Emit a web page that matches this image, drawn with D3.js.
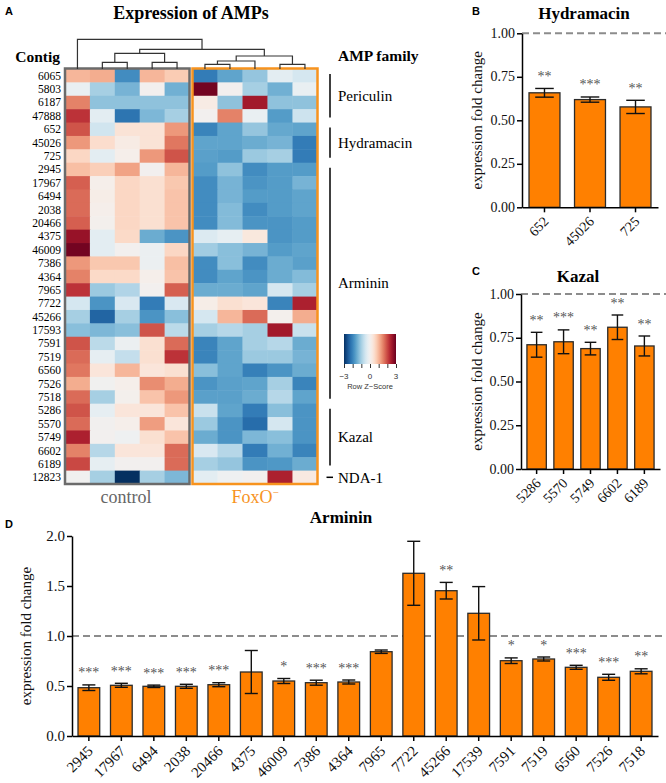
<!DOCTYPE html>
<html>
<head>
<meta charset="utf-8">
<title>AMP expression in FoxO- polyps</title>
<script src="https://cdn.jsdelivr.net/npm/d3@7"></script>
<style>
  body { margin: 0; background: #fff; }
  svg { display: block; }
</style>
</head>
<body>
<div class="canvas"></div>
<script>
// ---- bar chart data (fold change vs control, mean and s.e.m.) ----
const hydraLabels = ['652', '45026', '725'];
const hydraMean = [0.658, 0.619, 0.577];
const hydraSem = [0.025, 0.015, 0.038];
const hydraSig = ['**', '***', '**'];

const kazalLabels = ['5286', '5570', '5749', '6602', '6189'];
const kazalMean = [0.71, 0.727, 0.688, 0.81, 0.703];
const kazalSem = [0.071, 0.068, 0.036, 0.07, 0.057];
const kazalSig = ['**', '***', '**', '**', '**'];

const arminLabels = ['2945', '17967', '6494', '2038', '20466', '4375', '46009', '7386', '4364',
  '7965', '7722', '45266', '17539', '7591', '7519', '6560', '7526', '7518'];
const arminMean = [0.483, 0.507, 0.497, 0.497, 0.513, 0.64, 0.55, 0.533, 0.54,
  0.843, 1.627, 1.453, 1.227, 0.753, 0.77, 0.687, 0.587, 0.647];
const arminSem = [0.028, 0.02, 0.012, 0.02, 0.02, 0.215, 0.025, 0.025, 0.02,
  0.017, 0.32, 0.083, 0.267, 0.028, 0.02, 0.02, 0.03, 0.025];
const arminSig = ['***', '***', '***', '***', '***', '', '*', '***', '***',
  '', '', '**', '', '*', '*', '***', '***', '**'];

// ---- heatmap data ----
const contigs = ['6065', '5803', '6187', '47888', '652', '45026', '725', '2945', '17967', '6494',
  '2038', '20466', '4375', '46009', '7386', '4364', '7965', '7722', '45266', '17593', '7591',
  '7519', '6560', '7526', '7518', '5286', '5570', '5749', '6602', '6189', '12823'];
const sampleIds = ['c1', 'c2', 'c3', 'c4', 'c5', 'f1', 'f2', 'f3', 'f4', 'f5'];
// row z-scores, control x5 then FoxO- x5
const zScores = [
  [1.0, 1.1, -1.9, 1.0, 0.75, -2.1, -1.6, -1.15, -0.3, -0.5],
  [-0.2, -1.0, -1.4, 0.0, -1.45, 2.9, 0.0, -1.0, -1.45, -0.2],
  [1.5, -1.2, -1.2, -1.2, -1.2, 0.2, -1.2, 2.5, -1.2, -1.2],
  [2.2, -0.3, -2.2, -1.35, -1.0, 0.0, 1.5, -0.2, -1.7, -0.6],
  [1.9, -0.55, 0.4, 0.4, 1.3, -2.0, -1.6, -1.15, -1.55, -1.6],
  [1.3, 0.5, 0.2, 0.4, 1.6, -1.6, -1.6, -1.5, -1.4, -2.1],
  [0.6, -0.3, 0.1, 1.3, 1.9, -1.65, -1.7, -1.1, -1.0, -2.1],
  [0.9, 0.7, 1.2, 0.0, 1.0, -1.7, -1.2, -1.9, -1.7, -1.7],
  [1.8, 0.1, 0.6, 0.45, 0.8, -1.9, -1.4, -1.8, -1.7, -1.4],
  [1.7, 0.15, 0.6, 0.45, 0.85, -1.9, -1.4, -1.7, -1.7, -1.6],
  [1.7, 0.1, 0.6, 0.45, 0.85, -1.9, -1.3, -1.9, -1.7, -1.6],
  [1.8, 0.05, 0.6, 0.45, 0.85, -1.9, -1.3, -1.8, -1.8, -1.7],
  [2.6, -0.3, 0.55, -1.5, -1.8, -0.4, -0.25, 0.3, -1.8, -1.7],
  [2.9, -0.3, 0.0, -0.15, 0.6, -1.05, -1.25, -1.4, -1.7, -1.6],
  [1.3, 0.8, 0.8, -0.15, 0.9, -1.9, -1.25, -1.9, -1.5, -1.65],
  [1.5, 0.55, 0.55, 0.1, 0.85, -1.9, -1.6, -1.8, -1.5, -1.3],
  [2.2, -1.1, -0.9, 0.0, 1.8, -1.5, -1.5, -1.6, -0.5, -1.0],
  [-0.5, -1.8, -0.45, -2.1, -0.45, 0.15, 0.45, 0.35, -2.0, 2.4],
  [-1.0, -2.4, -1.0, -1.8, -1.25, -0.5, 1.0, 1.7, 0.05, 1.1],
  [-1.25, -1.35, -1.25, 1.9, -0.8, -1.0, -0.85, -1.0, 2.5, -0.65],
  [1.9, -0.8, -0.15, 0.45, 1.7, -2.0, -1.6, -1.0, -0.85, -1.5],
  [1.7, -0.25, -0.7, 0.45, 2.2, -2.0, -1.6, -1.1, -1.1, -1.4],
  [1.6, 0.35, 1.0, 0.35, 0.45, -1.25, -1.6, -2.05, -1.8, -1.5],
  [1.1, -0.05, 0.1, 1.4, 1.1, -1.8, -1.65, -1.6, -1.0, -2.0],
  [1.7, -1.0, 0.05, 0.85, 1.3, -1.65, -1.65, -1.5, -0.85, -1.6],
  [1.9, -0.25, 0.35, 0.35, 0.85, -0.65, -1.6, -2.1, -1.25, -1.8],
  [1.7, -0.02, 0.1, 1.25, 0.35, -1.1, -1.8, -2.3, -0.5, -1.8],
  [2.4, 0.0, -0.1, 0.45, 0.85, -1.5, -1.8, -1.35, -1.25, -1.8],
  [1.5, -0.85, 0.35, 0.35, 1.7, -0.45, -0.85, -2.1, -1.45, -2.0],
  [2.0, -0.25, 0.0, 0.0, 1.7, -1.0, -1.15, -1.8, -1.75, -1.5],
  [-0.05, -1.0, -3.0, -1.0, -1.35, -0.3, -0.1, 0.0, 2.4, 0.25]
];
// column clustering, hclust style: negative = sample (1-based), positive = earlier merge
const dendroMerges = [[-2, -3], [-4, -5], [1, 2], [-6, -7], [4, -8], [-9, -10], [5, 6], [3, 7], [-1, 8]];
const dendroHeights = [6.7, 6.7, 15.7, 4.7, 8, 4.7, 13, 19.7, 29.7];

const familyNames = ['Periculin', 'Hydramacin', 'Arminin', 'Kazal', 'NDA-1'];
const familyFirst = ['6065', '652', '2945', '5286', '12823'];
const familyLast = ['47888', '725', '7518', '6189', '12823'];

// ---- drawing ----
const serif = '"Liberation Serif", "Times New Roman", serif';
const sans = '"Liberation Sans", Arial, sans-serif';
const orange = '#ff8000';
const foxOrange = '#f7931e';

const svg = d3.select('.canvas')
  .append('svg')
  .attr('width', 666)
  .attr('height', 783)
  .style('background', '#fff');
const defs = svg.append('defs');

const label = (x, y, txt, size, opts = {}) => svg.append('text')
  .attr('x', x).attr('y', y)
  .style('font-family', opts.family || serif)
  .style('font-size', size + 'px')
  .style('font-weight', opts.weight || 'normal')
  .attr('text-anchor', opts.anchor || 'start')
  .attr('fill', opts.fill || '#000')
  .text(txt);

// panel letters
label(5, 15, 'A', 11, { family: sans, weight: 'bold' });
label(472, 15, 'B', 11, { family: sans, weight: 'bold' });
label(472, 275, 'C', 11, { family: sans, weight: 'bold' });
label(5, 528, 'D', 11, { family: sans, weight: 'bold' });

// ---- A: heatmap ----
label(191, 18.5, 'Expression of AMPs', 18, { weight: 'bold', anchor: 'middle' });
label(60, 62, 'Contig', 15.5, { weight: 'bold', anchor: 'end' });
label(338, 61, 'AMP family', 15.5, { weight: 'bold' });

const xCtrl = d3.scaleBand().domain(sampleIds.slice(0, 5)).range([65, 189.5]);
const xFox = d3.scaleBand().domain(sampleIds.slice(5)).range([192.5, 317.5]);
const colX = id => (xCtrl.domain().includes(id) ? xCtrl(id) : xFox(id));
const colW = xCtrl.bandwidth();
const yRow = d3.scaleBand().domain(contigs).range([69, 484]);
const zColor = z => d3.interpolateRdBu((3 - Math.max(-3, Math.min(3, z))) / 6);

const heat = svg.append('g');
const cells = contigs.flatMap((c, i) => sampleIds.map((s, j) => ({ contig: c, sample: s, z: zScores[i][j] })));

heat.selectAll('.cell').data(cells).enter().append('rect')
  .attr('class', 'cell')
  .attr('x', d => colX(d.sample))
  .attr('y', d => yRow(d.contig))
  .attr('width', colW + 0.5)
  .attr('height', yRow.bandwidth() + 0.5)
  .attr('fill', d => zColor(d.z));

heat.selectAll('.rowlab').data(contigs).enter().append('text')
  .attr('class', 'rowlab')
  .attr('x', 61)
  .attr('y', d => yRow(d) + yRow.bandwidth() / 2)
  .attr('dy', '0.35em')
  .attr('text-anchor', 'end')
  .style('font-family', serif)
  .style('font-size', '11.5px')
  .text(d => d);

// group borders
heat.append('rect')
  .attr('x', 65).attr('y', 68.5).attr('width', 124.5).attr('height', 415.5)
  .attr('fill', 'none').attr('stroke', '#6b6b6b').attr('stroke-width', 2.5);
heat.append('rect')
  .attr('x', 192.5).attr('y', 68.5).attr('width', 125).attr('height', 415.5)
  .attr('fill', 'none').attr('stroke', foxOrange).attr('stroke-width', 2.5);

label(126, 503, 'control', 18, { anchor: 'middle', fill: '#666' });
const fox = label(255, 503, 'FoxO', 18, { anchor: 'middle', fill: foxOrange });
fox.append('tspan').attr('dy', -7).style('font-size', '11px').text('\u2212');

// dendrogram
const mergeNodes = [];
const nodeOf = k => (k < 0 ? { leaf: sampleIds[-k - 1], h: 0 } : mergeNodes[k - 1]);
dendroMerges.forEach((m, i) => {
  mergeNodes.push({ h: dendroHeights[i], children: [nodeOf(m[0]), nodeOf(m[1])] });
});
const root = d3.hierarchy(mergeNodes[mergeNodes.length - 1]);
const hY = d3.scaleLinear().domain([0, d3.max(dendroHeights)]).range([69, 39.3]);
root.eachAfter(n => {
  n.px = n.children ? d3.mean(n.children, c => c.px) : colX(n.data.leaf) + colW / 2;
});
heat.selectAll('.dlink')
  .data(root.descendants().filter(n => n.children))
  .enter().append('path')
  .attr('class', 'dlink')
  .attr('fill', 'none')
  .attr('stroke', '#333')
  .attr('stroke-width', 1.2)
  .attr('d', n => {
    const [a, b] = n.children;
    return `M${a.px},${hY(a.data.h)}V${hY(n.data.h)}H${b.px}V${hY(b.data.h)}`;
  });

// family brackets
familyNames.forEach((name, i) => {
  const y1 = yRow(familyFirst[i]);
  const y2 = yRow(familyLast[i]) + yRow.bandwidth();
  if (familyFirst[i] === familyLast[i]) {
    heat.append('line')
      .attr('x1', 326.5).attr('x2', 333).attr('y1', (y1 + y2) / 2).attr('y2', (y1 + y2) / 2)
      .attr('stroke', '#000').attr('stroke-width', 1.5);
  } else {
    heat.append('line')
      .attr('x1', 330).attr('x2', 330).attr('y1', y1 + 5).attr('y2', y2 - 5)
      .attr('stroke', '#000').attr('stroke-width', 1.5);
  }
  label(338, (y1 + y2) / 2, name, 15).attr('dy', '0.35em');
});

// colour key
const keyX = d3.scaleLinear().domain([-3, 3]).range([344, 396]);
const grad = defs.append('linearGradient').attr('id', 'zgrad');
grad.selectAll('stop').data(d3.range(-3, 3.01, 0.25)).enter().append('stop')
  .attr('offset', d => (d + 3) / 6)
  .attr('stop-color', d => zColor(d));
svg.append('rect')
  .attr('x', keyX(-3)).attr('y', 334).attr('width', keyX(3) - keyX(-3)).attr('height', 30)
  .attr('fill', 'url(#zgrad)');
const keyAxis = svg.append('g')
  .attr('transform', 'translate(0,364)')
  .call(d3.axisBottom(keyX).tickValues(d3.range(-3, 4)).tickSize(4).tickFormat(''));
keyAxis.select('.domain').remove();
keyAxis.selectAll('line').attr('stroke', '#333');
svg.selectAll('.keylab').data([-3, 0, 3]).enter().append('text')
  .attr('class', 'keylab')
  .attr('x', d => keyX(d)).attr('y', 379)
  .attr('text-anchor', 'middle')
  .style('font-family', sans).style('font-size', '8px')
  .attr('fill', '#333')
  .text(d => (d < 0 ? '\u2212' + Math.abs(d) : d));
label(370, 389, 'Row Z\u2212Score', 7.5, { family: sans, anchor: 'middle', fill: '#333' });

// ---- bar panels ----
function barPanel(p) {
  const g = svg.append('g');
  const data = p.labels.map((l, i) => ({ label: l, mean: p.mean[i], sem: p.sem[i], sig: p.sig[i] }));

  const x = d3.scaleBand().domain(p.labels).range([p.left, p.right])
    .paddingInner(p.padIn).paddingOuter(p.padOut);
  const y = d3.scaleLinear().domain([0, p.yMax]).range([p.bottom, p.top]);
  const bw = x.bandwidth();
  const cap = bw * 0.3;

  g.append('line')
    .attr('x1', p.left).attr('x2', 666).attr('y1', y(1)).attr('y2', y(1))
    .attr('stroke', '#8c8c8c').attr('stroke-width', 2).attr('stroke-dasharray', '7,4');

  g.selectAll('.bar').data(data).enter().append('rect')
    .attr('class', 'bar')
    .attr('x', d => x(d.label))
    .attr('y', d => y(d.mean))
    .attr('width', bw)
    .attr('height', d => y(0) - y(d.mean))
    .attr('fill', orange)
    .attr('stroke', '#2b2b2b')
    .attr('stroke-width', 1.3);

  const err = g.selectAll('.err').data(data).enter().append('g')
    .attr('class', 'err')
    .attr('transform', d => `translate(${x(d.label) + bw / 2},0)`)
    .attr('stroke', '#111').attr('stroke-width', 1.4);
  err.append('line').attr('y1', d => y(d.mean - d.sem)).attr('y2', d => y(d.mean + d.sem));
  err.append('line').attr('x1', -cap).attr('x2', cap).attr('y1', d => y(d.mean + d.sem)).attr('y2', d => y(d.mean + d.sem));
  err.append('line').attr('x1', -cap).attr('x2', cap).attr('y1', d => y(d.mean - d.sem)).attr('y2', d => y(d.mean - d.sem));

  g.selectAll('.sig').data(data).enter().append('text')
    .attr('class', 'sig')
    .attr('x', d => x(d.label) + bw / 2)
    .attr('y', d => y(d.mean + d.sem) - 7.5)
    .attr('text-anchor', 'middle')
    .style('font-family', serif)
    .style('font-size', '14px')
    .attr('fill', '#555')
    .text(d => d.sig);

  const yAx = g.append('g')
    .attr('transform', `translate(${p.left},0)`)
    .call(d3.axisLeft(y).tickValues(p.ticks).tickFormat('').tickSize(5).tickSizeOuter(0));
  const xAx = g.append('g')
    .attr('transform', `translate(0,${y(0)})`)
    .call(d3.axisBottom(x).tickFormat('').tickSize(5).tickSizeOuter(0));
  [yAx, xAx].forEach(a => {
    a.selectAll('path, line').attr('stroke', '#000').attr('stroke-width', 1.5);
  });

  const fmt = d3.format(p.fmt);
  g.selectAll('.ytl').data(p.ticks).enter().append('text')
    .attr('class', 'ytl')
    .attr('x', p.left - 7)
    .attr('y', d => y(d))
    .attr('dy', '0.33em')
    .attr('text-anchor', 'end')
    .style('font-family', serif)
    .style('font-size', p.font + 'px')
    .attr('fill', '#111')
    .text(d => fmt(d));

  // category labels: placed straight on the svg, rotated like the y titles
  svg.selectAll(`.xtl-${p.key}`).data(p.labels).enter().append('text')
    .attr('class', `xtl-${p.key}`)
    .attr('transform', d => `translate(${x(d) + bw / 2 + 5},${y(0) + p.labelDrop}) rotate(-45)`)
    .attr('text-anchor', 'end')
    .style('font-family', serif)
    .style('font-size', p.font + 'px')
    .attr('fill', '#111')
    .text(d => d);

  svg.append('text')
    .attr('transform', `translate(${p.left - p.titleOffset},${(y(0) + y(p.yMax)) / 2}) rotate(-90)`)
    .attr('text-anchor', 'middle')
    .style('font-family', serif)
    .style('font-size', '15px')
    .attr('fill', '#111')
    .text('expression fold change');

  label(p.titleX, p.titleY, p.title, 17, { weight: 'bold', anchor: 'middle' });
}

barPanel({
  key: 'b', labels: hydraLabels, mean: hydraMean, sem: hydraSem, sig: hydraSig,
  left: 522, right: 658, padIn: 0.32, padOut: 0.154, top: 33.3, bottom: 207.3,
  yMax: 1, ticks: [0, 0.25, 0.5, 0.75, 1], fmt: '.2f', font: 14, labelDrop: 15,
  titleOffset: 40, title: 'Hydramacin', titleX: 584, titleY: 18.5
});

barPanel({
  key: 'c', labels: kazalLabels, mean: kazalMean, sem: kazalSem, sig: kazalSig,
  left: 521, right: 660, padIn: 0.28, padOut: 0.22, top: 294, bottom: 469,
  yMax: 1, ticks: [0, 0.25, 0.5, 0.75, 1], fmt: '.2f', font: 14, labelDrop: 15,
  titleOffset: 39, title: 'Kazal', titleX: 578, titleY: 281.5
});

barPanel({
  key: 'd', labels: arminLabels, mean: arminMean, sem: arminSem, sig: arminSig,
  left: 72, right: 658, padIn: 0.332, padOut: 0.185, top: 536, bottom: 736,
  yMax: 2, ticks: [0, 0.5, 1, 1.5, 2], fmt: '.1f', font: 15, labelDrop: 16,
  titleOffset: 41, title: 'Arminin', titleX: 341, titleY: 523
});
</script>
</body>
</html>
